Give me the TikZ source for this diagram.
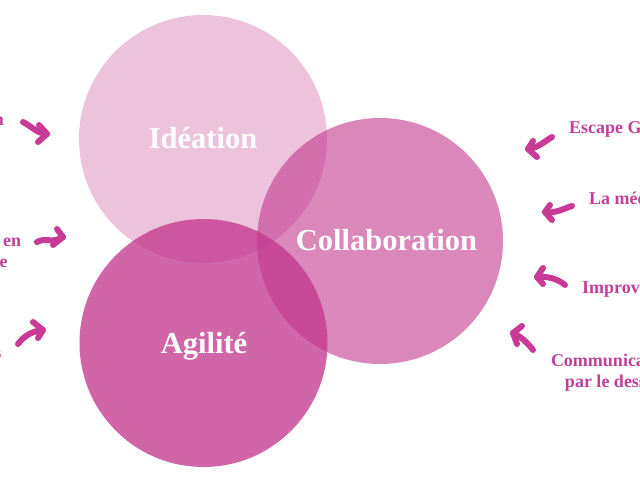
\documentclass[tikz,border=0pt]{standalone}
\usepackage{fontspec}
\setmainfont{Liberation Serif}
\definecolor{basepink}{RGB}{194,55,140}
\definecolor{arrowpink}{RGB}{200,58,150}
\definecolor{textpink}{RGB}{192,64,152}
\begin{document}
\begin{tikzpicture}[x=1pt,y=-1pt,
  bubble/.style={circle,fill=basepink,draw=none,minimum size=248pt,inner sep=0pt},
  bubbletext/.style={text=white,font=\fontsize{30.5}{34}\selectfont\bfseries,inner sep=0pt,anchor=base},
  sidetext/.style={text=textpink,font=\fontsize{18}{20.5}\selectfont\bfseries,inner sep=0pt,align=center},
  arrowstroke/.style={draw=arrowpink,line width=6pt,line cap=round,line join=round}]
\useasboundingbox (0,0) rectangle (640,480);
\clip (0,0) rectangle (640,480);
% circles
\node (ideation) [bubble,fill opacity=0.3] at (203,139) {};
\node (collab) [bubble,fill opacity=0.6,minimum size=246pt] at (380,241) {};
\node (agilite) [bubble,fill opacity=0.77] at (203.5,343) {};
% circle labels
\node (tIde) [bubbletext] at (203,148) {Idéation};
\node (tCol) [bubbletext] at (386.5,250) {Collaboration};
\node (tAgi) [bubbletext] at (204,353) {Agilité};
% left texts
\node (l1) [sidetext,anchor=base east] at (4,125) {Co-création};
\node (l2) [sidetext,anchor=base] at (-18,267) {Travail en\\équipe};
\node (l3) [sidetext,anchor=base east] at (1.5,358) {Méthodes agiles};
% right texts
\node (r1) [sidetext,anchor=base west] at (569,133) {Escape Game};
\node (r2) [sidetext,anchor=base west] at (589,204) {La médiation};
\node (r3) [sidetext,anchor=base west] at (582,293) {Improvisation};
\node (r4) [sidetext,anchor=base] at (613,387) {Communication\\par le dessin};
% arrow coordinates
\coordinate (a1t) at (23,122); \coordinate (a1h) at (47,134);
\coordinate (a2t) at (37,242); \coordinate (a2h) at (63,237);
\coordinate (a3t) at (18,344); \coordinate (a3h) at (43,330);
\coordinate (a4t) at (552,137); \coordinate (a4h) at (528,149);
\coordinate (a5t) at (572,206); \coordinate (a5h) at (545,212);
\coordinate (a6t) at (565,285); \coordinate (a6h) at (537,277);
\coordinate (a7t) at (533,350); \coordinate (a7h) at (513,333);
% arrows
\draw[arrowstroke] (a1t) .. controls (31,126) and (38,134) .. (a1h);
\draw[arrowstroke] (39,125) -- (a1h) -- (38,142);
\draw[arrowstroke] (a2t) .. controls (46,237) and (52,244) .. (a2h);
\draw[arrowstroke] (57,229) -- (a2h) -- (53,245);
\draw[arrowstroke] (a3t) .. controls (24,336) and (32,331) .. (a3h);
\draw[arrowstroke] (33,322) -- (a3h) -- (38,338);
\draw[arrowstroke] (a4t) .. controls (545,141) and (538,148) .. (a4h);
\draw[arrowstroke] (533,141) -- (a4h) -- (537,157);
\draw[arrowstroke] (a5t) .. controls (565,208) and (555,214) .. (a5h);
\draw[arrowstroke] (550,205) -- (a5h) -- (552,220);
\draw[arrowstroke] (a6t) .. controls (558,279) and (548,276) .. (a6h);
\draw[arrowstroke] (543,268) -- (a6h) -- (543,284);
\draw[arrowstroke] (a7t) .. controls (528,343) and (520,336) .. (a7h);
\draw[arrowstroke] (522,326) -- (a7h) -- (517,344);
\end{tikzpicture}
\end{document}
